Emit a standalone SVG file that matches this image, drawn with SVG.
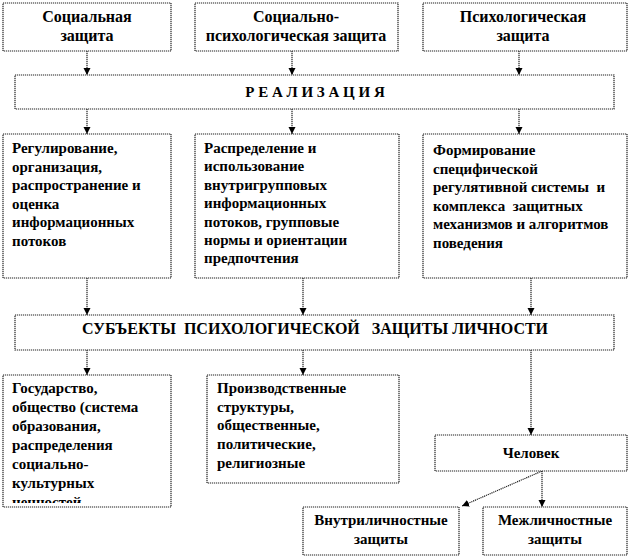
<svg xmlns="http://www.w3.org/2000/svg" width="630" height="558" viewBox="0 0 630 558">
<style>
.box{fill:#fff;stroke:#222;stroke-width:1.2;stroke-dasharray:1.2 0.8}
.con{fill:none;stroke:#222;stroke-width:1.2;stroke-dasharray:1.2 0.8}
text{font-family:"Liberation Serif","Times New Roman",serif;font-weight:bold;font-size:15px;fill:#000}
.h{font-size:16px}
.c{text-anchor:middle}
.pre{white-space:pre}
</style>
<defs>
<marker id="ah" markerWidth="8" markerHeight="8" refX="7" refY="4" orient="auto" markerUnits="userSpaceOnUse">
<path d="M0,0.5 L7,4 L0,7.5 Z" fill="#000"/>
</marker>
<clipPath id="clipG"><rect x="3" y="375" width="168" height="128"/></clipPath>
</defs>
<rect width="630" height="558" fill="#fff"/>
<g id="connectors">
<line class="con" x1="87" y1="51" x2="87" y2="75" marker-end="url(#ah)"/>
<line class="con" x1="292" y1="51" x2="292" y2="75" marker-end="url(#ah)"/>
<line class="con" x1="519" y1="51" x2="519" y2="75" marker-end="url(#ah)"/>
<line class="con" x1="87" y1="109" x2="87" y2="134" marker-end="url(#ah)"/>
<line class="con" x1="292" y1="109" x2="292" y2="134" marker-end="url(#ah)"/>
<line class="con" x1="519" y1="109" x2="519" y2="134" marker-end="url(#ah)"/>
<line class="con" x1="87" y1="278" x2="87" y2="315" marker-end="url(#ah)"/>
<line class="con" x1="303" y1="278" x2="303" y2="315" marker-end="url(#ah)"/>
<line class="con" x1="531" y1="278" x2="531" y2="315" marker-end="url(#ah)"/>
<line class="con" x1="87" y1="350" x2="87" y2="375" marker-end="url(#ah)"/>
<line class="con" x1="303" y1="350" x2="303" y2="375" marker-end="url(#ah)"/>
<line class="con" x1="531" y1="350" x2="531" y2="435" marker-end="url(#ah)"/>
<line class="con" x1="542" y1="471" x2="462" y2="506" marker-end="url(#ah)"/>
<line class="con" x1="542" y1="471" x2="542" y2="507" marker-end="url(#ah)"/>
</g>
<g id="n-social">
<rect class="box" x="3" y="3" width="168" height="48"/>
<text class="c h" x="87" y="22">Социальная</text>
<text class="c h" x="87" y="41">защита</text>
</g>
<g id="n-sociopsych">
<rect class="box" x="195" y="3" width="203" height="48"/>
<text class="c h" x="296" y="22">Социально-</text>
<text class="c h" x="296" y="41">психологическая защита</text>
</g>
<g id="n-psych">
<rect class="box" x="423" y="3" width="204" height="48"/>
<text class="c h" x="523" y="22">Психологическая</text>
<text class="c h" x="523" y="41">защита</text>
</g>
<g id="n-realization">
<rect class="box" x="15" y="75" width="599" height="34"/>
<text class="c pre" x="315" y="97">Р Е А Л И З А Ц И Я</text>
</g>
<g id="n-regulation">
<rect class="box" x="3" y="134" width="168" height="144"/>
<text x="12" y="153">Регулирование,<tspan x="12" dy="18.6">организация,</tspan><tspan x="12" dy="18.6">распространение и</tspan><tspan x="12" dy="18.6">оценка</tspan><tspan x="12" dy="18.6">информационных</tspan><tspan x="12" dy="18.6">потоков</tspan></text>
</g>
<g id="n-distribution">
<rect class="box" x="195" y="134" width="204" height="144"/>
<text x="204" y="153">Распределение и<tspan x="204" dy="18.4">использование</tspan><tspan x="204" dy="18.4">внутригрупповых</tspan><tspan x="204" dy="18.4">информационных</tspan><tspan x="204" dy="18.4">потоков, групповые</tspan><tspan x="204" dy="18.4">нормы и ориентации</tspan><tspan x="204" dy="18.4">предпочтения</tspan></text>
</g>
<g id="n-forming">
<rect class="box" x="423" y="134" width="204" height="144"/>
<text class="pre" x="433" y="155">Формирование<tspan x="433" dy="18.5">специфической</tspan><tspan x="433" dy="18.5">регулятивной системы  и</tspan><tspan x="433" dy="18.5">комплекса  защитных</tspan><tspan x="433" dy="18.5">механизмов и алгоритмов</tspan><tspan x="433" dy="18.5">поведения</tspan></text>
</g>
<g id="n-subjects">
<rect class="box" x="15" y="315" width="599" height="35"/>
<text class="c pre h" x="315" y="334">СУБЪЕКТЫ  ПСИХОЛОГИЧЕСКОЙ   ЗАЩИТЫ ЛИЧНОСТИ</text>
</g>
<g id="n-state">
<rect class="box" x="3" y="375" width="168" height="132"/>
<text x="12" y="393" clip-path="url(#clipG)">Государство,<tspan x="12" dy="19">общество (система</tspan><tspan x="12" dy="19">образования,</tspan><tspan x="12" dy="19">распределения</tspan><tspan x="12" dy="19">социально-</tspan><tspan x="12" dy="19">культурных</tspan><tspan x="12" dy="19">ценностей</tspan></text>
</g>
<g id="n-production">
<rect class="box" x="207" y="375" width="192" height="108"/>
<text x="217" y="393">Производственные<tspan x="217" dy="18.7">структуры,</tspan><tspan x="217" dy="18.7">общественные,</tspan><tspan x="217" dy="18.7">политические,</tspan><tspan x="217" dy="18.7">религиозные</tspan></text>
</g>
<g id="n-person">
<rect class="box" x="435" y="435" width="192" height="36"/>
<text class="c" x="531" y="458">Человек</text>
</g>
<g id="n-intra">
<rect class="box" x="303" y="507" width="156" height="48"/>
<text class="c" x="381" y="525">Внутриличностные</text>
<text class="c" x="381" y="544">защиты</text>
</g>
<g id="n-inter">
<rect class="box" x="483" y="507" width="144" height="48"/>
<text class="c" x="555" y="525">Межличностные</text>
<text class="c" x="555" y="544">защиты</text>
</g>
</svg>
